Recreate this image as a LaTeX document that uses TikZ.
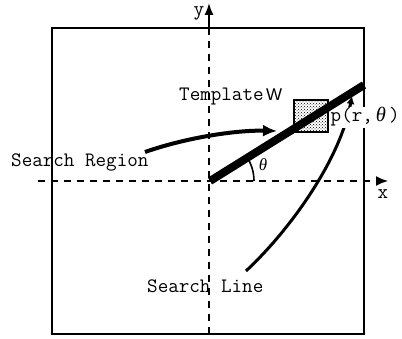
\documentclass[tikz,border=0pt]{standalone}
\usepackage{fontspec}
\setmainfont{Liberation Serif}
\newfontfamily\sansf{Liberation Sans}
\usetikzlibrary{arrows.meta,patterns}
\tikzset{
  frame/.style={line width=1.3pt},
  axisdash/.style={line width=1.6pt,dash pattern=on 7pt off 6pt},
  label/.style={inner sep=0pt,anchor=base west,font=\ttfamily\fontsize{20.5}{22}\selectfont},
  thickline/.style={line width=8pt},
  curve/.style={line width=3.5pt},
}
\begin{document}
\begin{tikzpicture}[x=1pt,y=-1pt]
\useasboundingbox (0,0) rectangle (402,339);
% coordinates
\coordinate (O) at (210,181);
\coordinate (E) at (364,85);
\coordinate (xs) at (38,181);
\coordinate (xe) at (388,181);
\coordinate (ytop) at (209,28);
\coordinate (ye) at (209,3);
\coordinate (yb) at (209,339);
\coordinate (rs) at (145,152);
\coordinate (re) at (277,131);
\coordinate (ls) at (246,271);
\coordinate (le) at (352,96);
% frame
\draw[frame] (52,28) rectangle (364,334);
% axes
\draw[axisdash,-{Latex[length=12pt,width=10pt]}] (xs) -- (xe);
\draw[axisdash] (ytop) -- (yb);
\draw[line width=1.6pt,-{Latex[length=12pt,width=9pt]}] (ytop) -- (ye);
\node[inner sep=0pt,anchor=base,font=\ttfamily\fontsize{20.5}{22}\selectfont] (ylab) at (199,16) {y};
\node[inner sep=0pt,anchor=base,font=\ttfamily\fontsize{20.5}{22}\selectfont] (xlab) at (383,199) {x};
% search line
\draw[curve,line width=3pt,-{Latex[length=8pt,width=8pt]}] (ls) .. controls (290,230) and (340,160) .. (le);
% p label
\node[label,fill=white,inner sep=1pt] (plab) at (329.5,122) {p(r,\hspace{3pt}{\rmfamily\itshape θ}\hspace{3pt})};
% template box
\node[draw,line width=1.3pt,pattern=crosshatch dots,minimum width=34pt,minimum height=32pt,inner sep=0pt] (tb) at (311,116) {};
% thick line
\draw[thickline] (O) -- (E);
% theta arc
\draw[line width=1.6pt] (254,181) arc[start angle=0,end angle=-31,radius=44];
\node[inner sep=0pt,font=\rmfamily\itshape\fontsize{17}{18}\selectfont] (th) at (263,165) {θ};
% search region curve
\draw[curve,line width=4pt,-{Latex[length=14pt,width=12pt]}] (rs) .. controls (185,138) and (235,130) .. (re);
% texts
\node[label] (tpl) at (179,101) {Template};
\node[inner sep=0pt,anchor=base west,font=\sansf\fontsize{17}{18}\selectfont] (w) at (266,101) {W};
\node[label] (sr) at (11,167) {Search Region};
\node[label] (sl) at (147,293) {Search Line};
\end{tikzpicture}
\end{document}
